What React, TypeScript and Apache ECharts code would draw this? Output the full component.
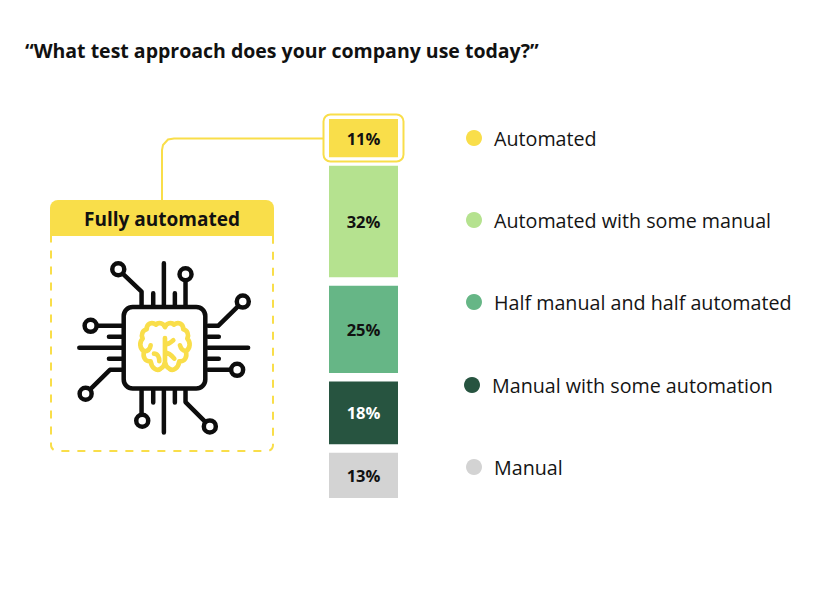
import React, { useEffect, useRef } from "react";
import * as echarts from "echarts";

const title = "“What test approach does your company use today?”";
const calloutTitle = "Fully automated";
const categories = ["Test approach"];
const names = [
  "Automated",
  "Automated with some manual",
  "Half manual and half automated",
  "Manual with some automation",
  "Manual",
];
const shares = [11, 32, 25, 18, 13];
const colors = ["#F9DE4A", "#B5E28F", "#66B686", "#275440", "#D3D3D3"];
const labelColors = ["#111111", "#111111", "#111111", "#FFFFFF", "#111111"];
const spacerValue = 2.43;

const FONT = "Open Sans";
const YELLOW = "#F9DE4A";

const circle = (x: number, y: number, r: number) =>
  `M${x - r} ${y}A${r} ${r} 0 1 0 ${x + r} ${y}A${r} ${r} 0 1 0 ${x - r} ${y}Z`;

const traces = [
  "M372 220L372 345", "M340 310L340 345", "M405 310L405 345", "M437 253L437 345",
  "M235 238L305 305L305 345",
  "M505 474L625 474", "M505 441L537 441", "M505 507L537 507",
  "M505 408L535 408L609 335", "M505 540L592 540",
  "M118 474L245 474", "M207 441L245 441", "M207 507L245 507",
  "M152 408L245 408", "M245 540L210 540L137 612",
  "M372 602L372 728", "M340 602L340 638", "M405 602L405 638",
  "M305 602L305 693", "M437 602L437 637L510 710",
].join("");
const nodes = [
  [235, 238], [437, 253], [609, 335], [592, 540],
  [152, 408], [137, 612], [307, 693], [510, 710],
].map(([x, y]) => circle(x, y, 18)).join("");
const brain =
  "M105 45C100 33 85 30 78 38C65 28 50 35 50 52C38 55 32 68 38 80C28 90 28 108 42 118C38 135 45 150 62 148C65 168 80 180 92 170C100 165 104 160 105 150" +
  "C106 160 110 165 118 170C130 180 145 168 148 148C165 150 172 135 168 118C182 108 182 90 172 80C178 68 172 55 160 52C160 35 145 28 132 38C125 30 110 33 105 45Z" +
  "M105 78L105 150M105 98C115 98 122 92 130 85M105 122C115 122 125 130 133 140" +
  "M42 118C52 118 60 112 62 100M72 125C82 125 88 135 88 148M168 118C158 116 152 108 150 100";

echarts.graphic.registerShape("chipTraces", echarts.graphic.extendPath(traces, {}));
echarts.graphic.registerShape("chipNodes", echarts.graphic.extendPath(nodes, {}));
echarts.graphic.registerShape("chipBrain", echarts.graphic.extendPath(brain, {}));

export default function App() {
  const ref = useRef<HTMLDivElement>(null);
  useEffect(() => {
    const chart = echarts.init(ref.current!, null, { renderer: "svg" });
    const series: any[] = [];
    names.forEach((name, i) => {
      series.push({
        name,
        type: "bar",
        stack: "all",
        barWidth: 69,
        silent: true,
        itemStyle: { color: colors[i] },
        label: {
          show: true,
          position: "inside",
          formatter: "{c}%",
          fontFamily: FONT,
          fontWeight: "bold",
          fontSize: 16.5,
          color: labelColors[i],
        },
        data: [shares[i]],
      });
      if (i < names.length - 1) {
        series.push({
          name: `spacer${i}`,
          type: "bar",
          stack: "all",
          silent: true,
          itemStyle: { color: "transparent" },
          data: [spacerValue],
        });
      }
    });
    const legendTops = [128, 210, 292, 375, 457];
    const legendLefts = [466, 466, 466, 464, 466];
    const maxValue = shares.reduce((a, b) => a + b, 0) + spacerValue * (names.length - 1);
    chart.setOption({
      animation: false,
      backgroundColor: "#FFFFFF",
      title: {
        text: title,
        left: 25,
        top: 40,
        padding: 0,
        textStyle: { fontFamily: FONT, fontWeight: "bold", fontSize: 19.5, color: "#111111" },
      },
      grid: { left: 329, top: 119, width: 69, height: 379 },
      xAxis: { type: "category", data: categories, show: false },
      yAxis: { type: "value", inverse: true, min: 0, max: maxValue, show: false },
      legend: names.map((name, i) => ({
        data: [name],
        left: legendLefts[i],
        top: legendTops[i],
        padding: 0,
        icon: "circle",
        itemWidth: 16,
        itemHeight: 16,
        selectedMode: false,
        textStyle: {
          fontFamily: FONT,
          fontSize: 19.7,
          color: "#141414",
          padding: [0, 0, 0, 7],
        },
      })),
      series,
      graphic: [
        {
          type: "polyline",
          silent: true,
          shape: { points: [[162, 202], [162, 150], [163, 145], [168, 139.5], [174, 138.5], [323, 138.5]] },
          style: { stroke: YELLOW, lineWidth: 2, fill: "none" },
        },
        {
          type: "rect",
          silent: true,
          shape: { x: 323.5, y: 114.5, width: 80, height: 47, r: 7 },
          style: { stroke: YELLOW, lineWidth: 2, fill: "none" },
        },
        {
          type: "rect",
          silent: true,
          shape: { x: 51, y: 225, width: 222, height: 226, r: 6 },
          style: { stroke: YELLOW, lineWidth: 2, fill: "#FFFFFF", lineDash: [8, 8] },
        },
        {
          type: "rect",
          silent: true,
          shape: { x: 50, y: 200, width: 224, height: 36, r: [8, 8, 0, 0] },
          style: { fill: YELLOW },
        },
        {
          type: "text",
          silent: true,
          x: 162,
          y: 219,
          style: {
            text: calloutTitle,
            fontFamily: FONT,
            fontWeight: "bold",
            fontSize: 19,
            fill: "#111111",
            align: "center",
            verticalAlign: "middle",
          },
        },
        {
          type: "chipTraces",
          silent: true,
          x: 40,
          y: 190,
          scaleX: 1 / 3,
          scaleY: 1 / 3,
          style: { fill: "none", stroke: "#0D0D0D", lineWidth: 13.5, lineCap: "round", lineJoin: "round" },
        },
        {
          type: "chipNodes",
          silent: true,
          x: 40,
          y: 190,
          scaleX: 1 / 3,
          scaleY: 1 / 3,
          style: { fill: "#FFFFFF", stroke: "#0D0D0D", lineWidth: 13.5 },
        },
        {
          type: "rect",
          silent: true,
          shape: { x: 123.7, y: 307, width: 81.6, height: 81.6, r: 9 },
          style: { fill: "#FFFFFF", stroke: "#0D0D0D", lineWidth: 4.5 },
        },
        {
          type: "chipBrain",
          silent: true,
          x: 130,
          y: 312,
          scaleX: 1 / 3,
          scaleY: 1 / 3,
          style: { fill: "none", stroke: YELLOW, lineWidth: 14, lineCap: "round", lineJoin: "round" },
        },
      ],
    });
    return () => chart.dispose();
  }, []);
  return (
    <div
      ref={ref}
      style={{ position: "absolute", left: 0, top: 0, width: 836, height: 596 }}
    />
  );
}
